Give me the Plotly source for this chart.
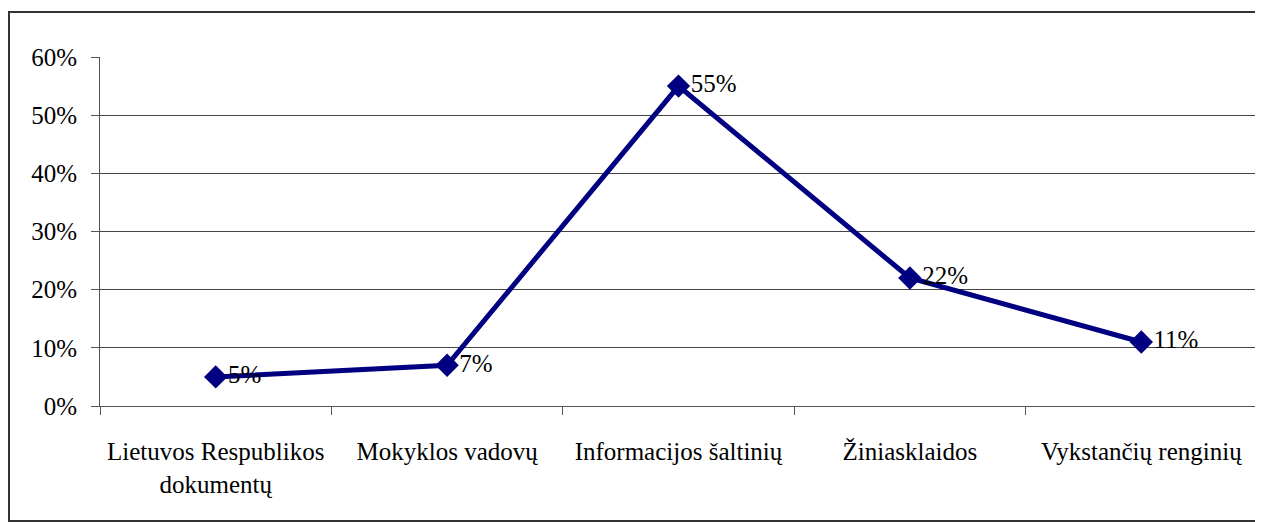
import plotly.graph_objects as go

categories = ["Lietuvos Respublikos<br>dokumentų", "Mokyklos vadovų", "Informacijos šaltinių", "Žiniasklaidos", "Vykstančių renginių"]
values = [0.05, 0.07, 0.55, 0.22, 0.11]
labels = ["5%", "7%", "55%", "22%", "11%"]
y_ticks = [0, 0.1, 0.2, 0.3, 0.4, 0.5, 0.6]
y_tick_labels = ["0%", "10%", "20%", "30%", "40%", "50%", "60%"]

# page has an 8px body margin, so the figure is shrunk and shifted accordingly
W, H = 1255, 514
ml, mr, mt, mb = 92, 6, 49, 116
pw, ph = W - ml - mr, H - mt - mb

font = dict(family="Liberation Serif", size=25, color="black")

fig = go.Figure()
fig.add_trace(go.Scatter(
    x=categories, y=values, mode="lines+markers+text",
    text=labels, textposition="middle right",
    textfont=font,
    line=dict(color="#000080", width=5),
    marker=dict(symbol="diamond", size=18, color="#000080"),
    cliponaxis=False,
))

fig.update_layout(
    width=W, height=H,
    margin=dict(l=ml, r=mr, t=mt, b=mb),
    paper_bgcolor="white", plot_bgcolor="white",
    showlegend=False,
    font=font,
    xaxis=dict(
        type="category", tickson="boundaries",
        ticks="outside", ticklen=8, tickcolor="#555", tickwidth=1,
        showline=True, linecolor="#555", linewidth=1,
        showgrid=False, ticklabelstandoff=23,
        range=[-0.5, 4.5], tickfont=font,
    ),
    yaxis=dict(
        range=[0, 0.6], tickvals=y_ticks, ticktext=y_tick_labels,
        ticks="outside", ticklen=8, tickcolor="#555",
        showline=True, linecolor="#555", linewidth=1,
        showgrid=True, gridcolor="#444", gridwidth=1,
        zeroline=False, ticklabelstandoff=9, tickfont=font,
    ),
)

fig.add_shape(
    type="rect", xref="paper", yref="paper",
    x0=(1 - ml) / pw, x1=(W - 1 - ml) / pw,
    y0=(mt + ph - (H - 1)) / ph, y1=(mt + ph - 4) / ph,
    line=dict(color="#333", width=2), layer="below",
)

fig.write_html("out.html")
